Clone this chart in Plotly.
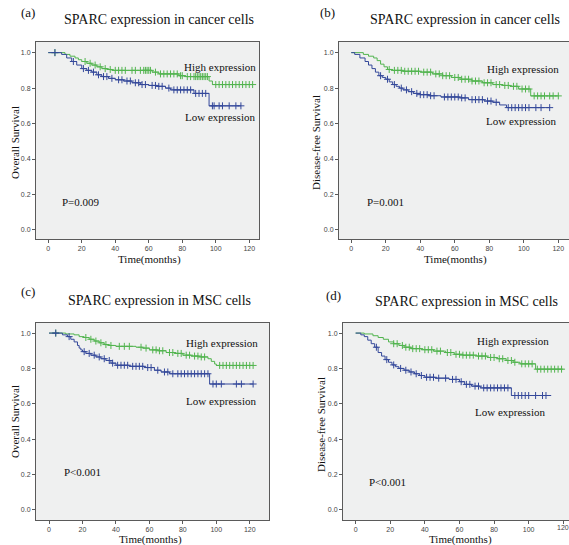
import plotly.graph_objects as go
import bisect

# ---------------- data ----------------
# Panel (a): SPARC in cancer cells, overall survival
a_high_t = [0, 10, 13, 16, 18, 20, 23, 26, 29, 32, 35, 38, 62, 66, 78, 82, 96, 98]
a_high_s = [1.0, 0.99, 0.98, 0.97, 0.96, 0.95, 0.94, 0.93, 0.92, 0.91, 0.905, 0.90, 0.89, 0.88, 0.87, 0.865, 0.84, 0.82]
a_high_end = 122
a_high_cens = [4, 22, 25, 28, 31, 34, 37, 40, 42, 44, 46, 50, 52, 55, 57, 58, 59, 60, 61, 64, 67, 69, 71, 73, 75, 77,
               79, 80, 83, 85, 87, 88, 89, 90, 91, 92, 93, 94, 95, 100, 102, 104, 106, 108, 110, 112, 114, 116, 118, 120, 122]
a_low_t = [0, 8, 11, 14, 17, 20, 23, 26, 29, 32, 36, 40, 45, 50, 55, 60, 65, 70, 73, 87, 96]
a_low_s = [1.0, 0.99, 0.97, 0.95, 0.93, 0.91, 0.90, 0.89, 0.875, 0.865, 0.855, 0.847, 0.84, 0.83, 0.82, 0.815, 0.81, 0.80, 0.79, 0.77, 0.70]
a_low_end = 115
a_low_cens = [4, 15, 21, 24, 27, 30, 33, 35, 38, 42, 44, 47, 49, 52, 54, 56, 58, 62, 64, 66, 68, 72, 75, 77, 79, 81, 83,
              85, 88, 90, 92, 94, 98, 99, 102, 104, 108, 112, 115]

# Panel (b): SPARC in cancer cells, disease-free survival
b_high_t = [0, 7, 10, 13, 15, 17, 19, 21, 24, 30, 40, 47, 53, 58, 63, 70, 76, 82, 88, 92, 97, 104]
b_high_s = [1.0, 0.99, 0.98, 0.97, 0.955, 0.935, 0.92, 0.905, 0.90, 0.895, 0.89, 0.88, 0.87, 0.86, 0.85, 0.84, 0.83, 0.82, 0.815, 0.81, 0.795, 0.756]
b_high_end = 120
b_high_cens = [22, 25, 27, 29, 31, 33, 35, 37, 39, 42, 44, 46, 49, 51, 53, 55, 57, 60, 62, 64, 66, 68, 70, 72, 74, 77,
               79, 81, 84, 86, 89, 91, 94, 96, 99, 101, 103, 106, 108, 110, 112, 115, 117, 120]
b_low_t = [0, 2, 5, 8, 10, 12, 14, 16, 18, 20, 22, 24, 26, 28, 30, 33, 36, 40, 45, 52, 63, 68, 77, 82, 86, 90]
b_low_s = [1.0, 0.99, 0.97, 0.95, 0.93, 0.91, 0.89, 0.87, 0.86, 0.85, 0.835, 0.82, 0.81, 0.80, 0.79, 0.78, 0.77,
           0.763, 0.757, 0.75, 0.745, 0.735, 0.727, 0.72, 0.705, 0.69]
b_low_end = 115
b_low_cens = [17, 21, 25, 29, 32, 35, 38, 40, 42, 44, 46, 48, 54, 56, 58, 60, 62, 64, 66, 70, 72, 74, 76, 79, 81, 84,
              91, 93, 95, 97, 99, 101, 103, 107, 110, 115]

# Panel (c): SPARC in MSC cells, overall survival
c_high_t = [0, 10, 15, 18, 21, 24, 27, 30, 33, 36, 40, 52, 56, 60, 65, 70, 75, 80, 85, 90, 95, 97, 99, 100]
c_high_s = [1.0, 0.995, 0.99, 0.98, 0.975, 0.965, 0.955, 0.945, 0.935, 0.93, 0.925, 0.92, 0.915, 0.905, 0.9, 0.89,
            0.885, 0.875, 0.87, 0.865, 0.855, 0.84, 0.825, 0.817]
c_high_end = 122
c_high_cens = [4, 22, 25, 28, 31, 34, 37, 42, 45, 48, 55, 58, 62, 64, 66, 68, 72, 74, 77, 79, 82, 84, 87, 89, 91, 93,
               102, 104, 106, 108, 110, 112, 114, 116, 118, 120, 122]
c_low_t = [0, 8, 11, 13, 15, 17, 18, 19, 20, 22, 25, 28, 31, 34, 37, 40, 48, 57, 63, 67, 72, 96]
c_low_s = [1.0, 0.99, 0.98, 0.965, 0.95, 0.93, 0.915, 0.905, 0.895, 0.885, 0.875, 0.865, 0.855, 0.845, 0.83, 0.818,
           0.812, 0.805, 0.79, 0.78, 0.77, 0.712]
c_low_end = 122
c_low_cens = [4, 12, 21, 24, 27, 30, 33, 36, 38, 41, 43, 45, 47, 50, 52, 54, 56, 59, 61, 65, 69, 71, 74, 77, 79, 81,
              83, 85, 87, 89, 91, 93, 95, 98, 100, 103, 112, 115, 122]

# Panel (d): SPARC in MSC cells, disease-free survival
d_high_t = [0, 5, 10, 13, 16, 19, 22, 25, 28, 32, 38, 45, 52, 57, 62, 70, 76, 82, 87, 91, 95, 104]
d_high_s = [1.0, 0.995, 0.985, 0.975, 0.965, 0.95, 0.94, 0.93, 0.92, 0.912, 0.906, 0.898, 0.89, 0.88, 0.875, 0.87,
            0.862, 0.855, 0.845, 0.835, 0.826, 0.796]
d_high_end = 120
d_high_cens = [22, 24, 27, 29, 31, 33, 35, 37, 40, 42, 44, 47, 49, 53, 55, 58, 60, 62, 64, 66, 68, 71, 73, 75, 78, 80,
               83, 85, 88, 90, 92, 96, 98, 100, 102, 105, 107, 109, 111, 113, 115, 117, 119]
d_low_t = [0, 3, 5, 7, 9, 11, 13, 15, 17, 19, 21, 23, 25, 28, 31, 34, 37, 40, 46, 54, 60, 63, 67, 72, 90]
d_low_s = [1.0, 0.99, 0.98, 0.96, 0.94, 0.92, 0.89, 0.87, 0.85, 0.835, 0.82, 0.81, 0.80, 0.79, 0.78, 0.77, 0.76,
           0.75, 0.745, 0.738, 0.725, 0.71, 0.70, 0.69, 0.647]
d_low_end = 113
d_low_cens = [12, 18, 22, 26, 29, 32, 35, 38, 41, 43, 45, 48, 52, 56, 58, 61, 64, 66, 69, 71, 74, 76, 78, 80, 82, 84,
              86, 88, 92, 94, 96, 98, 100, 104, 108, 110]

x_ticks = [0, 20, 40, 60, 80, 100, 120]
y_ticks = [0.0, 0.2, 0.4, 0.6, 0.8, 1.0]

panel_tags = ["(a)", "(b)", "(c)", "(d)"]
panel_titles = ["SPARC expression in cancer cells", "SPARC expression in cancer cells",
                "SPARC expression in MSC cells", "SPARC expression in MSC cells"]
y_titles = ["Overall Survival", "Disease-free Survival", "Overall Survival", "Disease-free Survival"]
p_values = ["P=0.009", "P=0.001", "P<0.001", "P<0.001"]
high_label = "High expression"
low_label = "Low expression"

# ---------------- styling / layout ----------------
W, H = 569, 545
GREEN = "#52b44f"
BLUE = "#34489a"
SERIF = "Liberation Serif, Times New Roman, serif"
SANS = "Liberation Sans, Arial, sans-serif"
TICKFONT = dict(family=SANS, size=7, color="#444")

# pixel geometry of each panel: plot box, axis ranges, text positions
panels = [
    dict(box=(36, 259, 42, 239), xr=(-7.3, 125.8), yr=(-0.051, 1.060),
         tag=(28, 13), title=(159, 19), xt=(149, 259), yt=(15, 143),
         hi=(220, 67), lo=(220, 117), p=(60, 202)),
    dict(box=(339, 569, 42, 239), xr=(-7.1, 126.2), yr=(-0.051, 1.060),
         tag=(328, 13), title=(465, 19), xt=(455, 259), yt=(316, 143),
         hi=(523, 69), lo=(521, 121), p=(365, 202)),
    dict(box=(36, 269, 323, 520), xr=(-7.8, 131.5), yr=(-0.057, 1.057),
         tag=(28, 291), title=(159, 300), xt=(150, 539), yt=(15, 422),
         hi=(222, 343), lo=(221, 401), p=(62, 472)),
    dict(box=(343, 569, 323, 520), xr=(-7.3, 123.3), yr=(-0.057, 1.057),
         tag=(333, 295), title=(466, 301), xt=(460, 539), yt=(321, 425),
         hi=(513, 341), lo=(510, 412), p=(367, 482)),
]

curves = [
    [(a_high_t, a_high_s, a_high_end, a_high_cens, GREEN), (a_low_t, a_low_s, a_low_end, a_low_cens, BLUE)],
    [(b_high_t, b_high_s, b_high_end, b_high_cens, GREEN), (b_low_t, b_low_s, b_low_end, b_low_cens, BLUE)],
    [(c_high_t, c_high_s, c_high_end, c_high_cens, GREEN), (c_low_t, c_low_s, c_low_end, c_low_cens, BLUE)],
    [(d_high_t, d_high_s, d_high_end, d_high_cens, GREEN), (d_low_t, d_low_s, d_low_end, d_low_cens, BLUE)],
]


def step_value(ts, ss, t):
    i = bisect.bisect_right(ts, t) - 1
    return ss[max(i, 0)]


def px(x):
    return x / W


def py(y):
    return 1 - y / H


fig = go.Figure()
annotations = []

for k, (pan, crv) in enumerate(zip(panels, curves)):
    n = "" if k == 0 else str(k + 1)
    xa, ya = "x" + n, "y" + n
    for ts, ss, tend, cens, col in crv:
        fig.add_trace(go.Scatter(
            x=ts + [tend], y=ss + [ss[-1]], mode="lines", line=dict(color=col, width=1, shape="hv"),
            xaxis=xa, yaxis=ya, showlegend=False, hoverinfo="skip"))
        fig.add_trace(go.Scatter(
            x=cens, y=[step_value(ts, ss, c) for c in cens], mode="markers",
            marker=dict(symbol="cross-thin", size=5, line=dict(color=col, width=1)),
            xaxis=xa, yaxis=ya, showlegend=False, hoverinfo="skip"))

    x0, x1, y0, y1 = pan["box"]
    axis_common = dict(showline=True, linecolor="#5a5a5a", linewidth=1, mirror=True, showgrid=False,
                       zeroline=False, ticks="outside", ticklen=3, tickcolor="#5a5a5a",
                       tickfont=TICKFONT)
    fig.update_layout(**{
        "xaxis" + n: dict(domain=[px(x0), min(px(x1), 1.0)], range=list(pan["xr"]), anchor=ya,
                          tickvals=x_ticks, **axis_common),
        "yaxis" + n: dict(domain=[py(y1), py(y0)], range=list(pan["yr"]), anchor=xa,
                          tickvals=y_ticks, tickformat=".1f", **axis_common),
    })

    # tick labels that plotly would drop because they touch the page edge
    for xv in x_ticks:
        lbl_px = x0 + (xv - pan["xr"][0]) / (pan["xr"][1] - pan["xr"][0]) * (x1 - x0)
        if lbl_px + 6 > W:
            annotations.append(dict(text=str(xv), x=xv, xref=xa, y=0, yref="paper", yanchor="top",
                                    yshift=H - y1 - 2, showarrow=False, font=TICKFONT))

    def ann(text, pos, size, xanchor="center", angle=0):
        annotations.append(dict(text=text, x=px(pos[0]), y=py(pos[1]), xref="paper", yref="paper",
                                showarrow=False, xanchor=xanchor, yanchor="middle", textangle=angle,
                                font=dict(family=SERIF, size=size, color="#111")))

    ann(panel_tags[k], pan["tag"], 13)
    ann(panel_titles[k], pan["title"], 14)
    ann("Time(months)", pan["xt"], 11)
    ann(y_titles[k], pan["yt"], 11, angle=-90)
    ann(high_label, pan["hi"], 11)
    ann(low_label, pan["lo"], 11)
    ann(p_values[k], pan["p"], 11, xanchor="left")

    # plot area background
    fig.add_shape(type="rect", xref="paper", yref="paper", x0=px(x0), x1=min(px(x1), 1.0),
                  y0=py(y1), y1=py(y0), fillcolor="#eff0f0", line=dict(width=0), layer="below")

fig.update_layout(width=W, height=H, margin=dict(l=0, r=0, t=0, b=0),
                  paper_bgcolor="white", plot_bgcolor="rgba(0,0,0,0)",
                  annotations=annotations)

fig.write_html("out.html", config={"displayModeBar": False},
               post_script="document.body.style.margin='0';document.body.style.overflow='hidden';")
